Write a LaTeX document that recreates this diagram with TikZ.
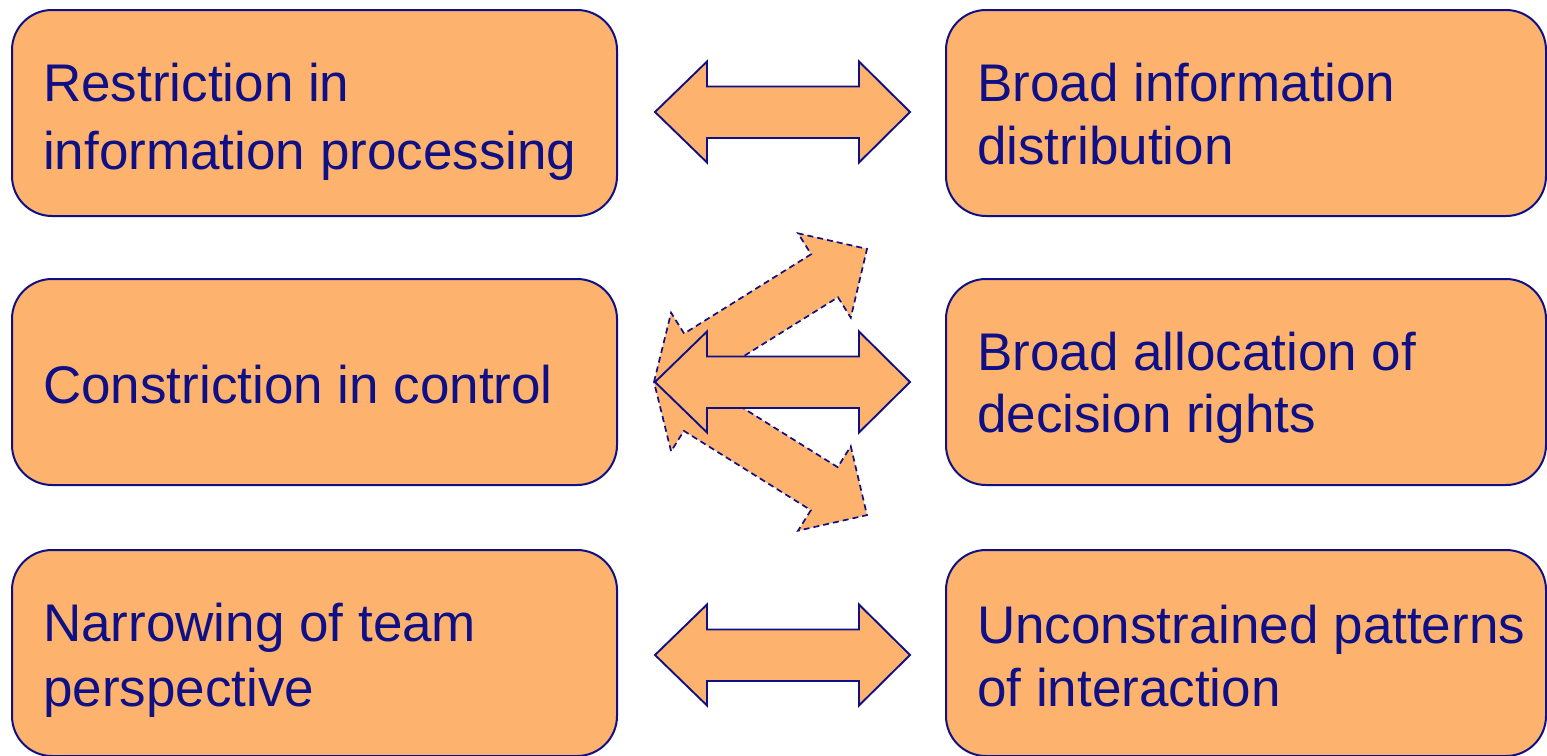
\documentclass[tikz,border=0pt]{standalone}
\usepackage{fontspec}
\setmainfont{Liberation Sans}
\definecolor{boxfill}{RGB}{253,179,110}
\definecolor{navy}{RGB}{16,16,134}
\tikzset{
  box/.style={draw=navy, line width=2pt, fill=boxfill, rounded corners=40pt},
  label/.style={anchor=base west, inner sep=0pt, align=left, text=navy},
  dblarrow/.style={draw=navy, line width=1.9pt, fill=boxfill, line join=miter},
  dasharrow/.style={draw=navy, line width=1.7pt, fill=boxfill, dash pattern=on 6pt off 4pt, line join=miter}
}
\newcommand{\dblarrowpath}{(0,0) -- (52,-50.5) -- (52,-25.5) -- (204,-25.5) -- (204,-50.5) -- (255,0) -- (204,50.5) -- (204,26) -- (52,26) -- (52,50.5) -- cycle}
\begin{document}
\begin{tikzpicture}[x=1pt,y=-1pt]
\clip (0,0) rectangle (1547,755);
\fill[white] (0,0) rectangle (1547,755);
% boxes
\draw[box] (12,10) rectangle (617,216);
\draw[box] (946,10) rectangle (1546,216);
\draw[box] (12,279) rectangle (617,485);
\draw[box] (946,279) rectangle (1546,485);
\draw[box] (12,550) rectangle (617,756);
\draw[box] (946,550) rectangle (1546,756);
% texts (anchor = baseline of last line)
\node[label, font={\fontsize{53}{68}\selectfont}] (t1) at (43,169) {Restriction in\\information processing};
\node[label, font={\fontsize{53}{63}\selectfont}] (t2) at (977,164) {Broad information\\distribution};
\node[label, font={\fontsize{53}{68}\selectfont}] (t3) at (43,403) {Constriction in control};
\node[label, font={\fontsize{53}{62}\selectfont}] (t4) at (977,432) {Broad allocation of\\decision rights};
\node[label, font={\fontsize{53}{65}\selectfont}] (t5) at (43,706) {Narrowing of team\\perspective};
\node[label, font={\fontsize{53}{63}\selectfont}] (t6) at (977,706) {Unconstrained patterns\\of interaction};
% arrows
\coordinate (a1) at (655,112);
\coordinate (a2) at (655,382);
\coordinate (a3) at (655,655);
\begin{scope}[shift={(654,382)}, rotate=32, scale=0.985]
  \draw[dasharrow] \dblarrowpath;
\end{scope}
\begin{scope}[shift={(654,382)}, rotate=-32, scale=0.985]
  \draw[dasharrow] \dblarrowpath;
\end{scope}
\begin{scope}[shift={(a1)}]
  \draw[dblarrow] \dblarrowpath;
\end{scope}
\begin{scope}[shift={(a2)}]
  \draw[dblarrow] \dblarrowpath;
\end{scope}
\begin{scope}[shift={(a3)}]
  \draw[dblarrow] \dblarrowpath;
\end{scope}
\end{tikzpicture}
\end{document}
